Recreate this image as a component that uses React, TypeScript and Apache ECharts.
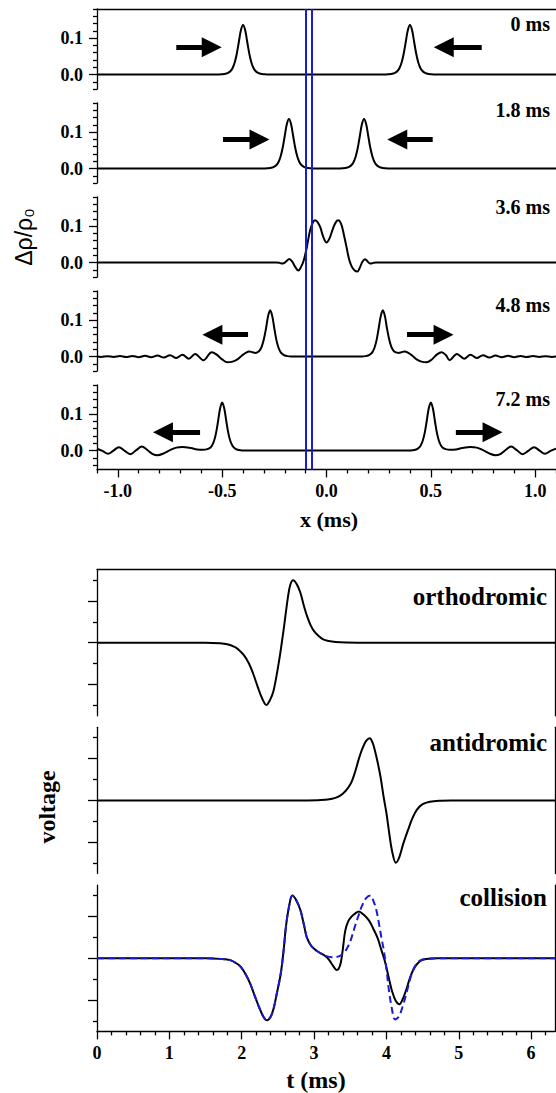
import React, { useEffect, useRef } from "react";
import * as echarts from "echarts";

type Pt = [number, number];
type Arrow = [number, number, number]; // tail x, tip x, y

// ---------------- tick values ----------------
const xTicksMajor = [-1.0, -0.5, 0.0, 0.5, 1.0];
const xTicksMinor = [-1.1, -0.9, -0.8, -0.7, -0.6, -0.4, -0.3, -0.2, -0.1, 0.1, 0.2, 0.3, 0.4, 0.6, 0.7, 0.8, 0.9, 1.1];
const rhoTicksMajor = [0.0, 0.1];
const rhoTicksMinor = [-0.04, -0.02, 0.02, 0.04, 0.06, 0.08, 0.12, 0.14, 0.16, 0.18];
const tTicksMajor = [0, 1, 2, 3, 4, 5, 6];
const tTicksMinor = [0.2, 0.4, 0.6, 0.8, 1.2, 1.4, 1.6, 1.8, 2.2, 2.4, 2.6, 2.8, 3.2, 3.4, 3.6, 3.8, 4.2, 4.4, 4.6, 4.8, 5.2, 5.4, 5.6, 5.8, 6.2];
const vTicksMajor = [-2, 0, 2];
const vTicksMinor = [-3, -1, 1, 3];

// ---------------- labels ----------------
const timeLabels = ["0 ms", "1.8 ms", "3.6 ms", "4.8 ms", "7.2 ms"];
const voltageLabels = ["orthodromic", "antidromic", "collision"];
const markerLinesX = [-0.1, -0.07];

// ---------------- density profiles (x in ms, Δρ/ρ0) ----------------
const rho0ms: Pt[] = [
  [-1.1, 0], [-0.52, 0], [-0.50, 0.0007], [-0.49, 0.0013], [-0.48, 0.0026], [-0.47, 0.005], [-0.46, 0.0096],
  [-0.45, 0.018], [-0.44, 0.033], [-0.43, 0.057], [-0.42, 0.09], [-0.41, 0.122], [-0.40, 0.136], [-0.39, 0.122],
  [-0.38, 0.09], [-0.37, 0.057], [-0.36, 0.033], [-0.35, 0.018], [-0.34, 0.0096], [-0.33, 0.005], [-0.32, 0.0026],
  [-0.31, 0.0013], [-0.30, 0.0007], [-0.28, 0],
  [0.28, 0], [0.30, 0.0007], [0.31, 0.0013], [0.32, 0.0026], [0.33, 0.005], [0.34, 0.0096], [0.35, 0.018],
  [0.36, 0.033], [0.37, 0.057], [0.38, 0.09], [0.39, 0.122], [0.40, 0.136], [0.41, 0.122], [0.42, 0.09],
  [0.43, 0.057], [0.44, 0.033], [0.45, 0.018], [0.46, 0.0096], [0.47, 0.005], [0.48, 0.0026], [0.49, 0.0013],
  [0.50, 0.0007], [0.52, 0], [1.1, 0],
];

const rho18ms: Pt[] = [
  [-1.1, 0], [-0.30, 0], [-0.28, 0.0007], [-0.27, 0.0013], [-0.26, 0.0026], [-0.25, 0.005], [-0.24, 0.0096],
  [-0.23, 0.018], [-0.22, 0.033], [-0.21, 0.057], [-0.20, 0.09], [-0.19, 0.122], [-0.18, 0.136], [-0.17, 0.122],
  [-0.16, 0.09], [-0.15, 0.057], [-0.14, 0.033], [-0.13, 0.018], [-0.12, 0.0096], [-0.11, 0.005], [-0.10, 0.0026],
  [-0.09, 0.0013], [-0.08, 0.0007], [-0.06, 0],
  [0.06, 0], [0.08, 0.0007], [0.09, 0.0013], [0.10, 0.0026], [0.11, 0.005], [0.12, 0.0096], [0.13, 0.018],
  [0.14, 0.033], [0.15, 0.057], [0.16, 0.09], [0.17, 0.122], [0.18, 0.136], [0.19, 0.122], [0.20, 0.09],
  [0.21, 0.057], [0.22, 0.033], [0.23, 0.018], [0.24, 0.0096], [0.25, 0.005], [0.26, 0.0026], [0.27, 0.0013],
  [0.28, 0.0007], [0.30, 0], [1.1, 0],
];

const rho36ms: Pt[] = [
  [-1.1, 0], [-0.24, 0], [-0.225, -0.001], [-0.21, -0.003], [-0.195, 0.002], [-0.178, 0.010], [-0.165, 0.003],
  [-0.15, -0.012], [-0.135, -0.022], [-0.122, -0.012], [-0.11, 0.004], [-0.095, 0.040], [-0.08, 0.085],
  [-0.067, 0.108], [-0.055, 0.116], [-0.043, 0.111], [-0.03, 0.097], [-0.015, 0.070], [0.0, 0.055],
  [0.015, 0.067], [0.03, 0.092], [0.045, 0.111], [0.057, 0.116], [0.07, 0.106], [0.082, 0.080], [0.095, 0.045],
  [0.107, 0.012], [0.12, -0.010], [0.135, -0.022], [0.148, -0.025], [0.16, -0.014], [0.172, 0.002],
  [0.185, 0.009], [0.197, 0.003], [0.21, -0.003], [0.225, -0.001], [0.24, 0], [1.1, 0],
];

const rho48ms: Pt[] = [
  [-1.1, 0], [-1.08, -0.001], [-1.05, 0.001], [-1.02, -0.0012], [-0.99, 0.0013], [-0.96, -0.0015], [-0.93, 0.0016],
  [-0.90, -0.0018], [-0.87, 0.002], [-0.84, -0.002], [-0.81, 0.0025], [-0.78, -0.003], [-0.75, 0.0035],
  [-0.72, -0.004], [-0.69, 0.005], [-0.66, -0.006], [-0.63, 0.007], [-0.59, -0.010], [-0.55, 0.012],
  [-0.528, 0.006], [-0.50, -0.008], [-0.475, -0.016], [-0.45, -0.014], [-0.425, -0.007], [-0.405, 0.003],
  [-0.385, 0.011], [-0.37, 0.014], [-0.355, 0.012], [-0.34, 0.010], [-0.33, 0.012], [-0.32, 0.017],
  [-0.31, 0.028], [-0.30, 0.048], [-0.29, 0.077], [-0.28, 0.111], [-0.27, 0.127], [-0.26, 0.111], [-0.25, 0.077],
  [-0.24, 0.045], [-0.23, 0.024], [-0.22, 0.012], [-0.21, 0.006], [-0.20, 0.0028], [-0.19, 0.0013], [-0.17, 0],
  [0.17, 0], [0.19, 0.0013], [0.20, 0.0028], [0.21, 0.006], [0.22, 0.012], [0.23, 0.024], [0.24, 0.045],
  [0.25, 0.077], [0.26, 0.111], [0.27, 0.127], [0.28, 0.111], [0.29, 0.077], [0.30, 0.048], [0.31, 0.028],
  [0.32, 0.017], [0.33, 0.012], [0.345, 0.010], [0.36, 0.012], [0.375, 0.014], [0.39, 0.011], [0.41, 0.003],
  [0.43, -0.007], [0.455, -0.014], [0.48, -0.016], [0.505, -0.008], [0.53, 0.006], [0.552, 0.012],
  [0.572, 0.004], [0.59, -0.010], [0.625, 0.007], [0.66, -0.006], [0.69, 0.005], [0.72, -0.004], [0.75, 0.0035],
  [0.78, -0.003], [0.81, 0.0025], [0.84, -0.002], [0.87, 0.002], [0.90, -0.0018], [0.93, 0.0016], [0.96, -0.0015],
  [0.99, 0.0013], [1.02, -0.0012], [1.05, 0.001], [1.08, -0.001], [1.1, 0],
];

const rho72ms: Pt[] = [
  [-1.1, 0.005], [-1.074, -0.001], [-1.047, -0.009], [-1.021, 0.0], [-0.995, 0.009], [-0.967, -0.001],
  [-0.94, -0.010], [-0.912, 0.001], [-0.885, 0.011], [-0.86, 0.002], [-0.835, -0.009], [-0.81, -0.013],
  [-0.78, -0.008], [-0.75, 0.001], [-0.72, 0.008], [-0.69, 0.010], [-0.65, 0.007], [-0.62, 0.003], [-0.59, 0.002],
  [-0.57, 0.004], [-0.56, 0.0065], [-0.55, 0.0124], [-0.54, 0.0247], [-0.53, 0.0465], [-0.52, 0.0797],
  [-0.51, 0.1155], [-0.50, 0.132], [-0.49, 0.1155], [-0.48, 0.0797], [-0.47, 0.0465], [-0.46, 0.0247],
  [-0.45, 0.0124], [-0.44, 0.0061], [-0.43, 0.0029], [-0.42, 0.0013], [-0.41, 0.0006], [-0.40, 0],
  [0.40, 0], [0.41, 0.0006], [0.42, 0.0013], [0.43, 0.0029], [0.44, 0.0061], [0.45, 0.0124], [0.46, 0.0247],
  [0.47, 0.0465], [0.48, 0.0797], [0.49, 0.1155], [0.50, 0.132], [0.51, 0.1155], [0.52, 0.0797], [0.53, 0.0465],
  [0.54, 0.0247], [0.55, 0.0124], [0.56, 0.0065], [0.57, 0.004], [0.59, 0.002], [0.62, 0.003], [0.65, 0.007],
  [0.69, 0.010], [0.72, 0.008], [0.75, 0.001], [0.78, -0.008], [0.81, -0.013], [0.835, -0.009], [0.86, 0.002],
  [0.885, 0.011], [0.912, 0.001], [0.94, -0.010], [0.967, -0.001], [0.995, 0.009], [1.021, 0.0],
  [1.047, -0.009], [1.074, -0.001], [1.1, 0.005],
];

// arrows: [tail x, tip x, y]
const arrows0ms: Arrow[] = [[-0.72, -0.50, 0.075], [0.744, 0.512, 0.075]];
const arrows18ms: Arrow[] = [[-0.496, -0.271, 0.08], [0.509, 0.289, 0.08]];
const arrows36ms: Arrow[] = [];
const arrows48ms: Arrow[] = [[-0.376, -0.597, 0.06], [0.386, 0.611, 0.06]];
const arrows72ms: Arrow[] = [[-0.606, -0.834, 0.05], [0.62, 0.846, 0.05]];

// ---------------- voltage traces (t in ms, arbitrary units) ----------------
const orthodromic: Pt[] = [
  [0, 0], [1.5, 0], [1.7, -0.03], [1.8, -0.08], [1.9, -0.2], [1.95, -0.31], [2.03, -0.6], [2.1, -1.0],
  [2.16, -1.5], [2.22, -2.1], [2.28, -2.65], [2.34, -2.98], [2.39, -2.75], [2.44, -2.3], [2.51, -1.0],
  [2.55, -0.1], [2.59, 0.9], [2.64, 2.2], [2.67, 2.75], [2.71, 2.98], [2.76, 2.8], [2.81, 2.4], [2.86, 1.75],
  [2.9, 1.3], [2.95, 0.85], [3.0, 0.55], [3.06, 0.33], [3.12, 0.17], [3.2, 0.08], [3.3, 0.03], [3.45, 0.005],
  [3.6, 0], [6.33, 0],
];

const antidromic: Pt[] = [
  [0, 0], [2.9, 0], [3.05, 0.005], [3.15, 0.03], [3.25, 0.08], [3.33, 0.17], [3.4, 0.33], [3.47, 0.6],
  [3.52, 0.9], [3.57, 1.4], [3.62, 2.0], [3.67, 2.5], [3.72, 2.85], [3.77, 2.98], [3.81, 2.75], [3.84, 2.4],
  [3.88, 1.8], [3.92, 1.1], [3.96, 0.2], [4.0, -0.6], [4.04, -1.6], [4.08, -2.45], [4.13, -2.98], [4.18, -2.7],
  [4.23, -2.1], [4.3, -1.4], [4.36, -0.85], [4.42, -0.45], [4.5, -0.18], [4.6, -0.06], [4.75, -0.01],
  [4.9, 0], [6.33, 0],
];

const collision: Pt[] = [
  [0, 0], [1.5, 0], [1.7, -0.03], [1.85, -0.1], [1.95, -0.3], [2.0, -0.47], [2.06, -0.8], [2.12, -1.24],
  [2.18, -1.8], [2.24, -2.34], [2.3, -2.8], [2.35, -2.97], [2.4, -2.8], [2.44, -2.42], [2.49, -1.6],
  [2.54, -0.73], [2.58, 0.4], [2.61, 1.47], [2.65, 2.4], [2.7, 3.0], [2.75, 2.8], [2.81, 2.32], [2.86, 1.6],
  [2.9, 1.0], [2.96, 0.6], [3.03, 0.37], [3.1, 0.22], [3.15, 0.12], [3.19, 0.0], [3.22, -0.14], [3.27, -0.4],
  [3.31, -0.56], [3.34, -0.5], [3.37, -0.2], [3.4, 0.5], [3.43, 1.3], [3.47, 1.75], [3.52, 2.0], [3.57, 2.15],
  [3.62, 2.24], [3.68, 2.1], [3.76, 1.8], [3.82, 1.4], [3.88, 0.95], [3.93, 0.4], [3.98, -0.15], [4.03, -0.9],
  [4.08, -1.6], [4.13, -2.05], [4.18, -2.2], [4.22, -2.0], [4.27, -1.55], [4.32, -1.0], [4.37, -0.56],
  [4.43, -0.25], [4.5, -0.08], [4.6, -0.02], [4.7, 0], [6.33, 0],
];

const collisionSum: Pt[] = [
  [0, 0], [1.5, 0], [1.7, -0.03], [1.85, -0.1], [1.95, -0.3], [2.0, -0.47], [2.06, -0.8], [2.12, -1.24],
  [2.18, -1.8], [2.24, -2.34], [2.3, -2.8], [2.35, -2.97], [2.4, -2.8], [2.44, -2.42], [2.49, -1.6],
  [2.54, -0.73], [2.58, 0.4], [2.61, 1.47], [2.65, 2.4], [2.7, 3.0], [2.75, 2.8], [2.81, 2.32], [2.86, 1.6],
  [2.9, 1.0], [2.96, 0.6], [3.03, 0.37], [3.1, 0.22], [3.17, 0.1], [3.25, 0.05], [3.33, 0.08], [3.4, 0.22],
  [3.46, 0.5], [3.51, 0.9], [3.56, 1.47], [3.61, 2.0], [3.66, 2.49], [3.72, 2.88], [3.78, 3.0], [3.82, 2.75],
  [3.86, 2.32], [3.9, 1.6], [3.93, 1.0], [3.96, 0.46], [4.0, -0.5], [4.03, -1.4], [4.07, -2.3], [4.12, -2.93],
  [4.17, -2.8], [4.23, -2.25], [4.29, -1.5], [4.35, -0.73], [4.41, -0.3], [4.47, -0.1], [4.55, -0.03],
  [4.7, 0], [6.33, 0],
];

const densityProfiles = [rho0ms, rho18ms, rho36ms, rho48ms, rho72ms];
const densityArrows = [arrows0ms, arrows18ms, arrows36ms, arrows48ms, arrows72ms];

// ---------------- layout / style ----------------
const SERIF = "'Liberation Serif', 'Times New Roman', serif";
const SANS = "'Liberation Sans', Arial, sans-serif";
const AX = { color: "#000", width: 1.3 };
const BLUE = "#1b1bd2";
const TOP_TOPS = [9, 103, 197, 291, 385];
const TOP_MINS = [-0.04, -0.04, -0.04, -0.04, -0.052];
const TOP_HEIGHT_PER_UNIT = 364; // px per 1.0 of Δρ/ρ0
const BOT_TOPS = [569.5, 727.3, 885.1];
const BOT_HEIGHT = 146.3;
const LEFT = 97;
const TIME_LABEL_Y = [23.5, 110, 207, 305, 399];
const VOLT_LABEL_Y = [596, 742, 897];
const HEAD_HALF = 0.05;

const tickLabel = { color: "#000", fontFamily: SERIF, fontWeight: "bold", fontSize: 18 };

function makeAxis(o: any) {
  return {
    type: "value",
    gridIndex: o.grid,
    min: o.min,
    max: o.max,
    position: o.position,
    show: true,
    name: o.name,
    nameLocation: "middle",
    nameGap: o.nameGap,
    nameRotate: 90,
    nameTextStyle: o.nameStyle,
    splitLine: { show: false },
    axisPointer: { show: false },
    axisLine: { show: !!o.line, onZero: false, lineStyle: AX },
    axisTick: o.ticks
      ? { show: true, inside: false, length: o.tickLen, customValues: o.ticks, lineStyle: AX }
      : { show: false },
    axisLabel: o.labels
      ? { show: true, customValues: o.labels, formatter: o.fmt, margin: o.margin, ...tickLabel }
      : { show: false },
  };
}

function buildOption() {
  const grid: any[] = [];
  const xAxis: any[] = [];
  const yAxis: any[] = [];
  const series: any[] = [];
  const addGrid = (g: any) => {
    grid.push({ ...g, containLabel: false, outerBoundsMode: "none", show: false });
    return grid.length - 1;
  };

  // ---- density panels ----
  densityProfiles.forEach((profile, i) => {
    const last = i === densityProfiles.length - 1;
    const min = TOP_MINS[i];
    const g = addGrid({ left: LEFT, width: 459, top: TOP_TOPS[i], height: (0.18 - min) * TOP_HEIGHT_PER_UNIT });
    const xi = xAxis.length;
    if (i === 0) {
      xAxis.push(makeAxis({ grid: g, min: -1.1, max: 1.1, position: "top", line: true }));
    } else if (last) {
      xAxis.push(makeAxis({
        grid: g, min: -1.1, max: 1.1, position: "bottom", line: true, ticks: xTicksMajor, tickLen: 8,
        labels: xTicksMajor, fmt: (v: number) => v.toFixed(1), margin: 13,
      }));
      xAxis.push(makeAxis({ grid: g, min: -1.1, max: 1.1, position: "bottom", ticks: xTicksMinor, tickLen: 4 }));
    } else {
      xAxis.push(makeAxis({ grid: g, min: -1.1, max: 1.1, position: "bottom" }));
    }
    const yi = yAxis.length;
    yAxis.push(makeAxis({
      grid: g, min, max: 0.18, position: "left", line: true, ticks: rhoTicksMajor, tickLen: 8,
      labels: rhoTicksMajor, fmt: (v: number) => v.toFixed(1), margin: 14,
      name: i === 2 ? "Δρ/ρ₀" : undefined,
      nameGap: 62,
      nameStyle: { color: "#000", fontFamily: SANS, fontSize: 23, fontWeight: "normal" },
    }));
    yAxis.push(makeAxis({ grid: g, min, max: 0.18, position: "left", ticks: rhoTicksMinor, tickLen: 4 }));

    const arrows = densityArrows[i];
    series.push({
      type: "line",
      xAxisIndex: xi,
      yAxisIndex: yi,
      data: profile,
      showSymbol: false,
      symbol: "none",
      smooth: 0.35,
      silent: true,
      lineStyle: { color: "#000", width: 2 },
      emphasis: { disabled: true },
      markLine: arrows.length
        ? {
            silent: true,
            animation: false,
            symbol: ["none", "triangle"],
            symbolSize: 20,
            label: { show: false },
            itemStyle: { color: "#000" },
            lineStyle: { color: "#000", width: 5, type: "solid", cap: "butt" },
            emphasis: { disabled: true },
            data: arrows.map(([tail, tip, y]) => {
              const end = tip > tail ? tip - HEAD_HALF : tip + HEAD_HALF;
              return [{ coord: [tail, y] }, { coord: [end, y] }];
            }),
          }
        : undefined,
    });
  });

  // ---- overlay grid for the blue marker lines spanning the density panels ----
  {
    const top = TOP_TOPS[0];
    const bottom = TOP_TOPS[4] + (0.18 - TOP_MINS[4]) * TOP_HEIGHT_PER_UNIT;
    const g = addGrid({ left: LEFT, width: 459, top, height: bottom - top });
    const xi = xAxis.length;
    xAxis.push({ type: "value", gridIndex: g, min: -1.1, max: 1.1, show: false });
    const yi = yAxis.length;
    yAxis.push({ type: "value", gridIndex: g, min: 0, max: 1, show: false });
    series.push({
      type: "line",
      xAxisIndex: xi,
      yAxisIndex: yi,
      data: [[-2, -1]],
      showSymbol: false,
      symbol: "none",
      silent: true,
      z: 5,
      lineStyle: { width: 0, opacity: 0 },
      markLine: {
        silent: true,
        animation: false,
        symbol: ["none", "none"],
        label: { show: false },
        lineStyle: { color: BLUE, width: 2, type: "solid" },
        emphasis: { disabled: true },
        data: markerLinesX.map((x) => ({ xAxis: x })),
      },
    });
  }

  // ---- voltage panels ----
  const traces: Pt[][][] = [[orthodromic], [antidromic], [collision, collisionSum]];
  traces.forEach((lines, i) => {
    const last = i === traces.length - 1;
    const g = addGrid({ left: LEFT, width: 458, top: BOT_TOPS[i], height: BOT_HEIGHT });
    const xi = xAxis.length;
    if (i === 0) {
      xAxis.push(makeAxis({ grid: g, min: 0, max: 6.33, position: "top", line: true }));
    } else if (last) {
      xAxis.push(makeAxis({
        grid: g, min: 0, max: 6.33, position: "bottom", line: true, ticks: tTicksMajor, tickLen: 8,
        labels: tTicksMajor, fmt: (v: number) => String(v), margin: 13,
      }));
      xAxis.push(makeAxis({ grid: g, min: 0, max: 6.33, position: "bottom", ticks: tTicksMinor, tickLen: 4 }));
    } else {
      xAxis.push(makeAxis({ grid: g, min: 0, max: 6.33, position: "bottom" }));
    }
    const yi = yAxis.length;
    yAxis.push(makeAxis({
      grid: g, min: -3.5, max: 3.5, position: "left", line: true, ticks: vTicksMajor, tickLen: 9,
      name: i === 1 ? "voltage" : undefined,
      nameGap: 38,
      nameStyle: { color: "#000", fontFamily: SERIF, fontSize: 24, fontWeight: "bold", padding: [0, 13, 0, 0] },
    }));
    yAxis.push(makeAxis({ grid: g, min: -3.5, max: 3.5, position: "left", ticks: vTicksMinor, tickLen: 4 }));
    yAxis.push(makeAxis({ grid: g, min: -3.5, max: 3.5, position: "right", line: true }));

    lines.forEach((data, k) => {
      const dashed = k === 1;
      series.push({
        type: "line",
        xAxisIndex: xi,
        yAxisIndex: yi,
        data,
        showSymbol: false,
        symbol: "none",
        smooth: 0.35,
        silent: true,
        z: dashed ? 3 : 2,
        emphasis: { disabled: true },
        lineStyle: dashed
          ? { color: BLUE, width: 2, type: [7, 4] }
          : { color: "#000", width: 2 },
      });
    });
  });

  // ---- texts ----
  const textStyle = (text: string, size: number, align: string) => ({
    text,
    fill: "#000",
    fontSize: size,
    fontWeight: "bold",
    fontFamily: SERIF,
    align,
    verticalAlign: "middle",
    textAlign: align,
    textVerticalAlign: "middle",
  });
  const graphic: any[] = [];
  timeLabels.forEach((t, i) => {
    graphic.push({ type: "text", x: 550, y: TIME_LABEL_Y[i], silent: true, style: textStyle(t, 20, "right") });
  });
  voltageLabels.forEach((t, i) => {
    graphic.push({ type: "text", x: 547, y: VOLT_LABEL_Y[i], silent: true, style: textStyle(t, 25, "right") });
  });
  graphic.push({ type: "text", x: 329, y: 519, silent: true, style: textStyle("x (ms)", 22, "center") });
  graphic.push({ type: "text", x: 316, y: 1080, silent: true, style: textStyle("t (ms)", 24, "center") });

  return {
    animation: false,
    backgroundColor: "#fff",
    grid,
    xAxis,
    yAxis,
    series,
    graphic,
  };
}

export default function App() {
  const ref = useRef<HTMLDivElement>(null);
  useEffect(() => {
    if (!ref.current) return;
    const chart = echarts.init(ref.current, undefined, { renderer: "svg" });
    chart.setOption(buildOption() as any);
    return () => chart.dispose();
  }, []);
  return (
    <div
      ref={ref}
      style={{ position: "absolute", left: 0, top: 0, width: 556, height: 1093, background: "#fff" }}
    />
  );
}
